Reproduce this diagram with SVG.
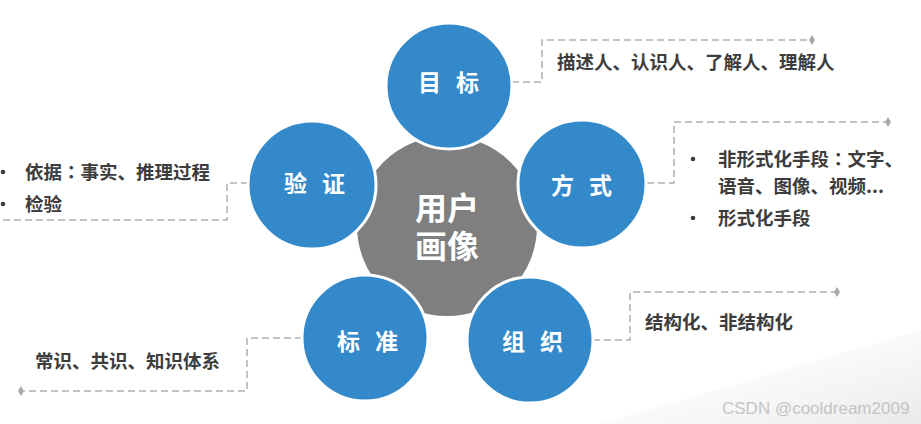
<svg xmlns="http://www.w3.org/2000/svg" width="921" height="424" viewBox="0 0 921 424">
<defs>
<style>
.blue{fill:#3389c9;stroke:#fff;stroke-width:3}
.center{fill:#7f7f7f;stroke:#fff;stroke-width:2}
.ct{font-family:"Noto Sans CJK SC","Noto Sans",sans-serif;font-weight:bold;fill:#fff;font-size:23px;letter-spacing:15px}
.big{font-family:"Noto Sans CJK SC","Noto Sans",sans-serif;font-weight:bold;fill:#fff;font-size:32px;text-anchor:middle}
.lbl{font-family:"Noto Sans CJK SC","Noto Sans",sans-serif;font-weight:bold;fill:#3d3d3d;font-size:18.5px}
.colon{font-family:"Noto Sans CJK TC","Noto Sans CJK SC",sans-serif}
.dash{fill:none;stroke:#b0b0b0;stroke-width:1.5;stroke-dasharray:7 4}
.dia{fill:#a8a8a8}
.dot{fill:#3d3d3d}
.wm{font-family:"Liberation Sans",Arial,sans-serif;fill:#c4c4c4;font-size:17px}
</style>
<linearGradient id="bg" x1="0" y1="0" x2="1" y2="1">
<stop offset="0" stop-color="#ffffff" stop-opacity="0"/>
<stop offset="1" stop-color="#e9e9e9"/>
</linearGradient>
</defs>
<rect width="921" height="424" fill="#fff"/>
<path d="M600 424 L921 330 L921 424 Z" fill="url(#bg)"/>

<g id="connectors">
<path class="dash" d="M512 82 H542 V40 H810"/>
<polygon class="dia" points="812,35 815,40 812,45 809,40"/>
<path class="dash" d="M647 183 H674 V122 H886"/>
<polygon class="dia" points="888,117 891,122 888,127 885,122"/>
<path class="dash" d="M593 340 H630 V292 H835"/>
<polygon class="dia" points="837,287 840,292 837,297 834,292"/>
<path class="dash" d="M248 183 H227 V220 H0"/>
<path class="dash" d="M302 338 H247 V391 H24"/>
<polygon class="dia" points="21,386 24,391 21,396 18,391"/>
</g>

<g id="center">
<circle class="center" cx="447" cy="226" r="91"/>
<text class="big" x="447" y="220">用户<tspan x="447" y="258">画像</tspan></text>
</g>

<g id="goal">
<circle class="blue" cx="449" cy="86" r="63"/>
<text class="ct" x="418" y="91">目标</text>
</g>
<g id="way">
<circle class="blue" cx="582" cy="184" r="64"/>
<text class="ct" x="551" y="194">方式</text>
</g>
<g id="verify">
<circle class="blue" cx="312" cy="185" r="64"/>
<text class="ct" x="284" y="192">验证</text>
</g>
<g id="standard">
<circle class="blue" cx="365" cy="338" r="63"/>
<text class="ct" x="337" y="350">标准</text>
</g>
<g id="org">
<circle class="blue" cx="530" cy="340" r="63"/>
<text class="ct" x="502" y="350">组织</text>
</g>

<g id="goal-label">
<text class="lbl" x="557" y="69">描述人、认识人、了解人、理解人</text>
</g>
<g id="way-label">
<circle class="dot" cx="693" cy="159" r="2.3"/>
<text class="lbl" x="718" y="166">非形式化手段<tspan class="colon">：</tspan>文字、</text>
<text class="lbl" x="718" y="193">语音、图像、视频...</text>
<circle class="dot" cx="693" cy="218" r="2.3"/>
<text class="lbl" x="718" y="225">形式化手段</text>
</g>
<g id="verify-label">
<circle class="dot" cx="3" cy="172" r="2.3"/>
<text class="lbl" x="25" y="179">依据<tspan class="colon">：</tspan>事实、推理过程</text>
<circle class="dot" cx="3" cy="204" r="2.3"/>
<text class="lbl" x="25" y="211">检验</text>
</g>
<g id="standard-label">
<text class="lbl" x="35" y="368">常识、共识、知识体系</text>
</g>
<g id="org-label">
<text class="lbl" x="645" y="329">结构化、非结构化</text>
</g>

<text class="wm" x="722" y="414">CSDN @cooldream2009</text>
</svg>
